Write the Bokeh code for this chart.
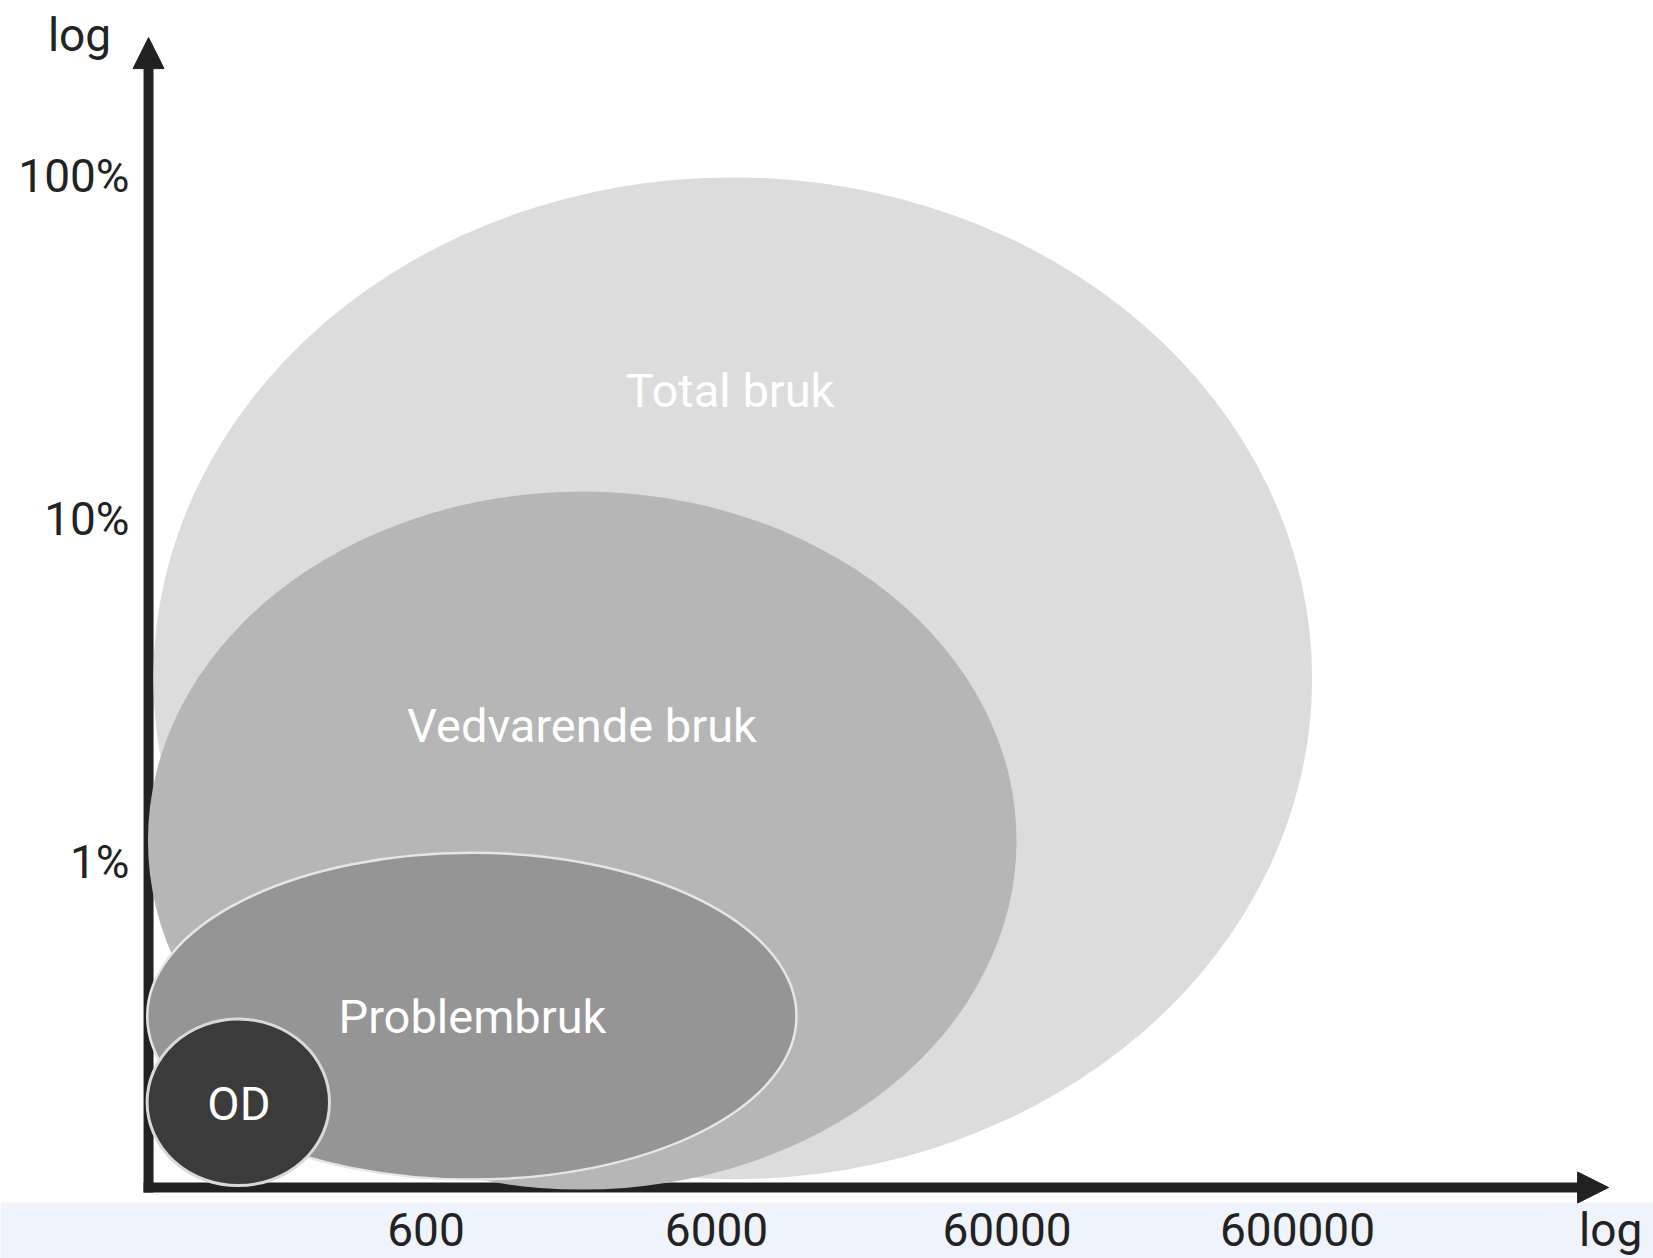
import numpy as np
from bokeh.plotting import figure
from bokeh.models import ColumnDataSource, Range1d, Arrow, NormalHead
from bokeh.core.properties import value
from bokeh.embed import file_html
from bokeh.resources import INLINE

# ---------------- data (log10 units: x = log10(count), y = log10(percent)) ----------------
groups = ["Total bruk", "Vedvarende bruk", "Problembruk", "OD"]
center_log_count = [3.834, 3.316, 2.936, 2.132]
center_log_pct = [0.536, 0.063, -0.449, -0.700]
span_log_count = [3.989, 2.990, 2.235, 0.628]
span_log_pct = [2.922, 2.035, 0.953, 0.486]
label_log_count = [3.825, 3.315, 2.938, 2.134]
label_log_pct = [1.375, 0.399, -0.451, -0.703]

x_tick_values = [600, 6000, 60000, 600000]
x_tick_labels = ["600", "6000", "60000", "600000"]
y_tick_values = [100, 10, 1]
y_tick_labels = ["100%", "10%", "1%"]
axis_title = "log"

# ---------------- styles ----------------
fill_colors = ["#dcdcdc", "#b6b6b6", "#959595", "#3b3b3b"]
line_colors = ["#dcdcdc", "#b6b6b6", "#e6e6e6", "#d9d9d9"]
line_widths = [0, 0, 2.5, 3]
AXIS_COLOR = "#222222"
BAND_COLOR = "#eef3fc"

# ---------------- layout ----------------
X_START, X_END = 1.3134, 7.0036
Y_START, Y_END = -1.1555, 2.5122
AXIS_X = 1.823          # position of the vertical axis
AXIS_Y = -0.9485        # position of the horizontal axis
Y_SHAFT = (-0.963, 2.33)
Y_TIP = 2.404
X_SHAFT = (1.806, 6.76)
X_TIP = 6.849
BAND_TOP = -0.992

p = figure(width=1653, height=1258,
           x_range=Range1d(X_START, X_END), y_range=Range1d(Y_START, Y_END),
           x_axis_type=None, y_axis_type=None,
           toolbar_location=None, output_backend="svg",
           min_border=0, outline_line_color=None,
           background_fill_color="white", border_fill_color="white")

# light band behind x labels
p.quad(left=[X_START], right=[X_END], bottom=[Y_START], top=[BAND_TOP],
       fill_color=BAND_COLOR, line_color=None)

# axis shafts
p.segment(x0=[AXIS_X], y0=[Y_SHAFT[0]], x1=[AXIS_X], y1=[Y_SHAFT[1]],
          line_color=AXIS_COLOR, line_width=10)
p.segment(x0=[X_SHAFT[0]], y0=[AXIS_Y], x1=[X_SHAFT[1]], y1=[AXIS_Y],
          line_color=AXIS_COLOR, line_width=10)

# ellipses
src = ColumnDataSource(dict(
    x=center_log_count, y=center_log_pct, w=span_log_count, h=span_log_pct,
    fc=fill_colors, lc=line_colors, lw=line_widths,
))
p.ellipse(x="x", y="y", width="w", height="h", source=src,
          fill_color="fc", line_color="lc", line_width="lw")

# arrow heads
for xs, ys, xe, ye in [(AXIS_X, Y_SHAFT[1] - 0.05, AXIS_X, Y_TIP),
                       (X_SHAFT[1] - 0.05, AXIS_Y, X_TIP, AXIS_Y)]:
    p.add_layout(Arrow(x_start=xs, y_start=ys, x_end=xe, y_end=ye,
                       line_alpha=0,
                       end=NormalHead(size=31, fill_color=AXIS_COLOR,
                                      line_color=AXIS_COLOR, line_width=1)))

# ellipse labels
p.text(x=label_log_count, y=label_log_pct, text=groups,
       text_font=value("Roboto"), text_font_size="47px", text_color="white",
       text_align="center", text_baseline="middle")

# y tick labels
p.text(x=[AXIS_X] * len(y_tick_values), y=list(np.log10(y_tick_values)),
       text=y_tick_labels, x_offset=-19,
       text_font=value("Roboto"), text_font_size="46px", text_color=AXIS_COLOR,
       text_align="right", text_baseline="middle")

# x tick labels
p.text(x=list(np.log10(x_tick_values)), y=[AXIS_Y] * len(x_tick_values),
       text=x_tick_labels, y_offset=42,
       text_font=value("Roboto"), text_font_size="46px", text_color=AXIS_COLOR,
       text_align="center", text_baseline="middle")

# axis titles
p.text(x=[AXIS_X], y=[Y_TIP], text=[axis_title], x_offset=-69, y_offset=-3,
       text_font=value("Roboto"), text_font_size="46px", text_color=AXIS_COLOR,
       text_align="center", text_baseline="middle")
p.text(x=[X_TIP], y=[AXIS_Y], text=[axis_title], x_offset=2, y_offset=42,
       text_font=value("Roboto"), text_font_size="46px", text_color=AXIS_COLOR,
       text_align="center", text_baseline="middle")

open("out.html", "w").write(file_html(p, INLINE))
